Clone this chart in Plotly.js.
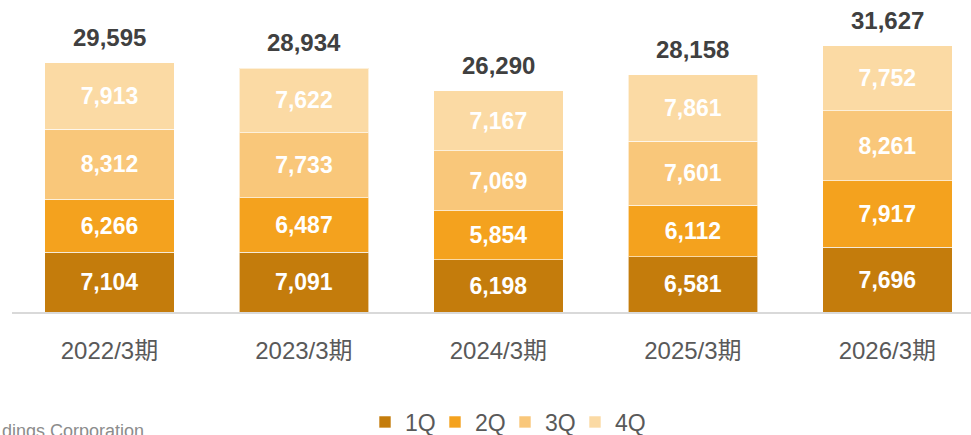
<!DOCTYPE html>
<html>
<head>
<meta charset="utf-8">
<script src="https://cdn.plot.ly/plotly-3.0.1.min.js"></script>
<style>
  html, body { margin: 0; padding: 0; background: #fff; }
  #plot { width: 971px; height: 435px; }
</style>
</head>
<body>
<div id="plot"></div>
<script>
const years = ["2022/3期", "2023/3期", "2024/3期", "2025/3期", "2026/3期"];
const q1 = [7104, 7091, 6198, 6581, 7696];
const q2 = [6266, 6487, 5854, 6112, 7917];
const q3 = [8312, 7733, 7069, 7601, 8261];
const q4 = [7913, 7622, 7167, 7861, 7752];
const totals = [29595, 28934, 26290, 28158, 31627];
const quarterNames = ["1Q", "2Q", "3Q", "4Q"];
const quarterColors = ["#C47C0C", "#F4A21E", "#F9C77A", "#FBDAA4"];

const font = "Liberation Sans, Arial, Noto Sans CJK JP, sans-serif";
const series = [q1, q2, q3, q4];

const data = series.map((vals, i) => ({
    x: years,
    y: vals,
    name: quarterNames[i],
    type: "bar",
    marker: { color: quarterColors[i], line: { color: "rgba(255,255,255,0.6)", width: 1 } },
    texttemplate: "%{y:,}",
    textposition: "inside",
    insidetextanchor: "middle",
    textangle: 0,
    constraintext: "none",
    textfont: { family: font, size: 23, color: "#ffffff", weight: "bold" },
    hoverinfo: "skip",
}));

const annotations = years.map((yr, j) => ({
    x: yr,
    y: totals[j],
    text: totals[j].toLocaleString("en-US"),
    showarrow: false,
    yanchor: "bottom",
    yshift: 10,
    font: { family: font, size: 24, color: "#404040", weight: "bold" },
}));

// footer at the bottom edge
annotations.push({
    xref: "paper",
    yref: "paper",
    x: -12 / 959,
    y: (312 - 431) / 312,
    xanchor: "left",
    yanchor: "middle",
    text: "dings Corporation",
    showarrow: false,
    font: { family: font, size: 18, color: "#8c8c8c" },
});

const layout = {
    width: 971,
    height: 435,
    margin: { l: 12, r: 0, t: 0, b: 123, pad: 0, autoexpand: false },
    paper_bgcolor: "#ffffff",
    plot_bgcolor: "#ffffff",
    barmode: "stack",
    bargap: 0.334,
    showlegend: true,
    legend: {
        orientation: "h",
        x: (505 - 12) / 959,
        xanchor: "center",
        y: (312 - 422) / 312,
        yanchor: "middle",
        font: { family: font, size: 23, color: "#595959" },
        itemwidth: 30,
        entrywidth: 25,
        traceorder: "normal",
    },
    xaxis: {
        range: [-0.501, 4.43],
        showline: true,
        linecolor: "#D9D9D9",
        linewidth: 2,
        ticks: "",
        ticklabelstandoff: 16,
        tickfont: { family: font, size: 24, color: "#595959" },
        showgrid: false,
        zeroline: false,
        fixedrange: true,
    },
    yaxis: {
        range: [0, 37050],
        visible: false,
        showgrid: false,
        zeroline: false,
        fixedrange: true,
    },
    annotations: annotations,
};

Plotly.newPlot(document.getElementById("plot"), data, layout, { displayModeBar: false, staticPlot: true });
</script>
</body>
</html>
